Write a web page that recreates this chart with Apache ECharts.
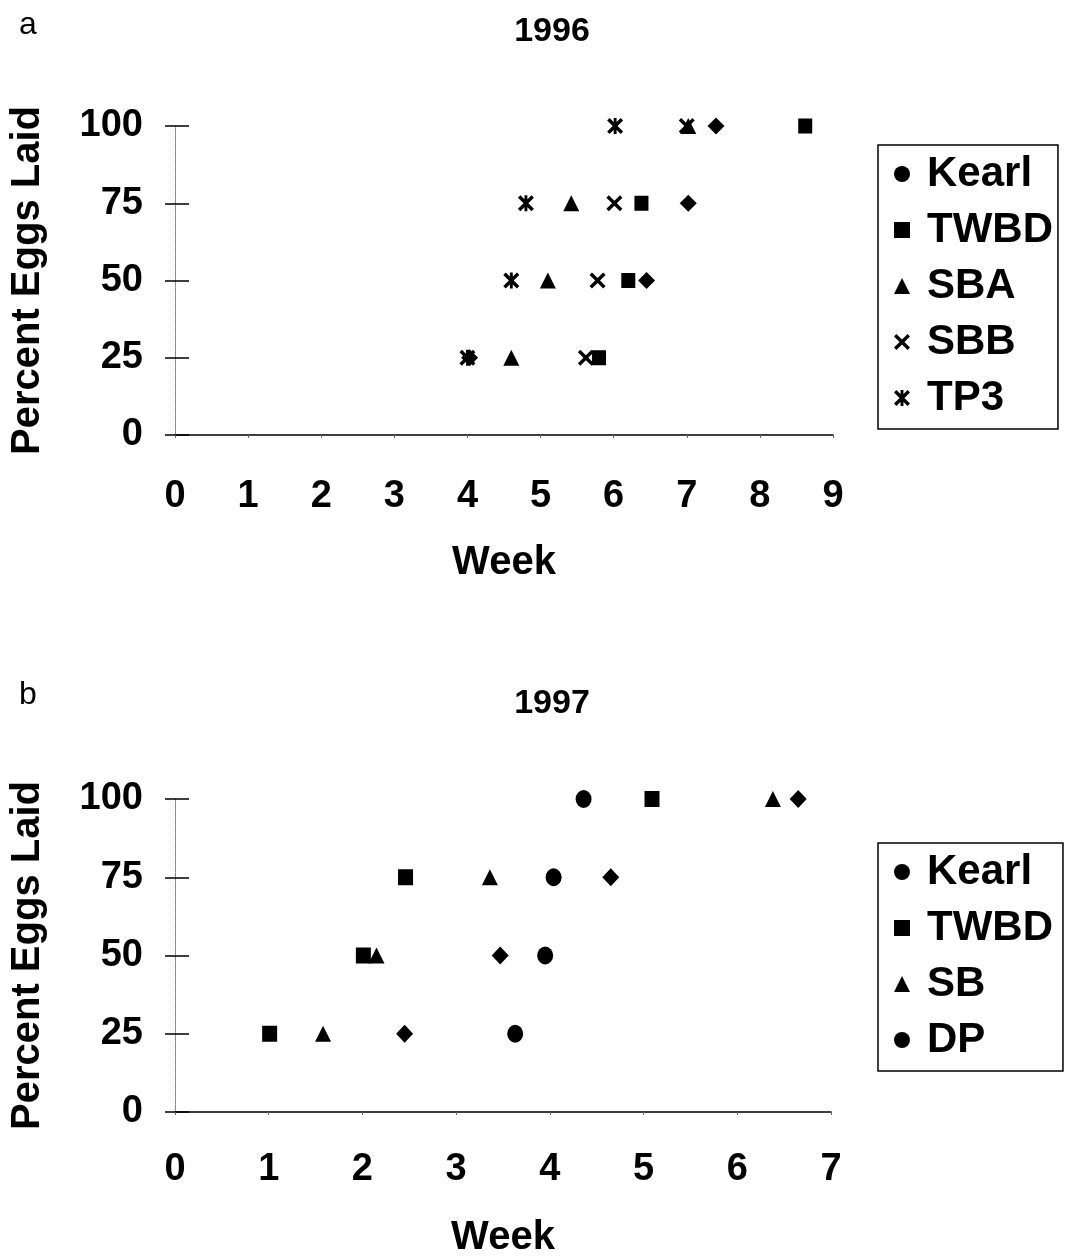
<!DOCTYPE html>
<html>
<head>
<meta charset="utf-8">
<title>Percent Eggs Laid by Week, 1996 and 1997</title>
<script src="https://cdn.jsdelivr.net/npm/echarts@6/dist/echarts.min.js"></script>
<style>
  html, body { margin: 0; padding: 0; background: #fff; }
  #chart { width: 1066px; height: 1259px; }
</style>
</head>
<body>
<div id="chart"></div>
<script>
// ---- data: [week, percent of eggs laid] ----
const yTicks = [0, 25, 50, 75, 100];

// 1996 sites
const names1996 = ['Kearl', 'TWBD', 'SBA', 'SBB', 'TP3'];
const kearl1996 = [[4.03, 25], [6.45, 50], [7.02, 75], [7.40, 100]];
const twbd1996  = [[5.80, 25], [6.20, 50], [6.38, 75], [8.62, 100]];
const sba1996   = [[4.60, 25], [5.10, 50], [5.42, 75], [7.02, 100]];
const sbb1996   = [[5.62, 25], [5.78, 50], [6.01, 75], [7.00, 100]];
const tp31996   = [[4.00, 25], [4.60, 50], [4.80, 75], [6.02, 100]];
const weekTicks1996 = [0, 1, 2, 3, 4, 5, 6, 7, 8, 9];

// 1997 sites
const names1997 = ['Kearl', 'TWBD', 'SB', 'DP'];
const kearl1997 = [[2.45, 25], [3.47, 50], [4.65, 75], [6.65, 100]];
const twbd1997  = [[1.01, 25], [2.01, 50], [2.46, 75], [5.09, 100]];
const sb1997    = [[1.58, 25], [2.15, 50], [3.36, 75], [6.38, 100]];
const dp1997    = [[3.63, 25], [3.95, 50], [4.04, 75], [4.36, 100]];
const weekTicks1997 = [0, 1, 2, 3, 4, 5, 6, 7];

// ---- marker shapes ----
const CROSS = 'path://M0,1.5L1.5,0L5,3.5L8.5,0L10,1.5L6.5,5L10,8.5L8.5,10L5,6.5L1.5,10L0,8.5L3.5,5Z';
const STAR = 'path://M0,1.5L1.5,0L5,3.5L8.5,0L10,1.5L6.5,5L10,8.5L8.5,10L5,6.5L1.5,10L0,8.5L3.5,5Z' +
             'M4.1,0L5.9,0L5.9,10L4.1,10Z';

const FONT = 'Liberation Sans, Arial, sans-serif';
const INK = '#000';

function valueAxisX(gridIndex, max, ticks) {
  return {
    type: 'value', gridIndex, min: 0, max, interval: 1,
    name: 'Week', nameLocation: 'middle',
    nameGap: gridIndex === 0 ? 108 : 106,
    nameTextStyle: { fontFamily: FONT, fontSize: 40, fontWeight: 'bold', color: INK },
    axisLine: { show: true, onZero: false, lineStyle: { color: INK, width: 1.5 } },
    axisTick: { show: true, length: 3, lineStyle: { color: '#666', width: 1 } },
    splitLine: { show: false },
    axisLabel: {
      margin: gridIndex === 0 ? 43 : 39,
      fontFamily: FONT, fontSize: 38, fontWeight: 'bold', color: INK,
      formatter: v => ticks.includes(v) ? String(v) : ''
    }
  };
}

function valueAxisY(gridIndex) {
  return {
    type: 'value', gridIndex, min: 0, max: 100, interval: 25, position: 'left',
    name: 'Percent Eggs Laid', nameLocation: 'middle', nameGap: 127,
    nameTextStyle: { fontFamily: FONT, fontSize: 40, fontWeight: 'bold', color: INK },
    axisLine: { show: true, lineStyle: { color: '#777', width: 1, type: 'dotted' } },
    axisTick: { show: true, length: 10, lineStyle: { color: INK, width: 1.5 } },
    splitLine: { show: false },
    axisLabel: {
      margin: 32, fontFamily: FONT, fontSize: 38, fontWeight: 'bold', color: INK,
      formatter: v => yTicks.includes(v) ? String(v) : ''
    }
  };
}

// companion axis that carries the inward half of each y tick
function innerTickAxis(gridIndex) {
  return {
    type: 'value', gridIndex, min: 0, max: 100, interval: 25, position: 'left',
    axisLine: { show: false },
    axisTick: { show: true, inside: true, length: 14, lineStyle: { color: INK, width: 1.5 } },
    axisLabel: { show: false },
    splitLine: { show: false }
  };
}

function scatter(name, data, symbol, size, xi, yi) {
  return {
    type: 'scatter', name, data, symbol, symbolSize: size,
    xAxisIndex: xi, yAxisIndex: yi,
    itemStyle: { color: INK, opacity: 1 },
    emphasis: { disabled: true }
  };
}

const legendCommon = {
  orient: 'vertical',
  backgroundColor: '#fff',
  borderColor: INK, borderWidth: 1.5, borderRadius: 0,
  itemWidth: 16, itemHeight: 16, itemGap: 14,
  selectedMode: false,
  textStyle: { fontFamily: FONT, fontSize: 42, fontWeight: 'bold', color: INK, lineHeight: 42, padding: [0, 0, 0, 12] },
  padding: [8, 5, 10, 16]
};

const chart = echarts.init(document.getElementById('chart'), null, { renderer: 'canvas' });

chart.setOption({
  animation: false,
  backgroundColor: '#fff',
  title: [
    { text: '1996', left: 547, top: 10, textAlign: 'center',
      textStyle: { fontFamily: FONT, fontSize: 34, fontWeight: 'bold', color: INK } },
    { text: '1997', left: 547, top: 682, textAlign: 'center',
      textStyle: { fontFamily: FONT, fontSize: 34, fontWeight: 'bold', color: INK } },
    { text: 'a', left: 14, top: 4,
      textStyle: { fontFamily: FONT, fontSize: 32, fontWeight: 'normal', color: INK } },
    { text: 'b', left: 14, top: 674,
      textStyle: { fontFamily: FONT, fontSize: 32, fontWeight: 'normal', color: INK } }
  ],
  grid: [
    { left: 172, right: 233, top: 126, bottom: 824 },
    { left: 170, right: 235, top: 799, bottom: 144 }
  ],
  xAxis: [
    valueAxisX(0, 9, weekTicks1996),
    valueAxisX(1, 7, weekTicks1997)
  ],
  yAxis: [
    valueAxisY(0), innerTickAxis(0),
    valueAxisY(1), innerTickAxis(1)
  ],
  legend: [
    Object.assign({}, legendCommon, {
      left: 878, top: 145,
      data: [
        { name: names1996[0], icon: 'circle' },
        { name: names1996[1], icon: 'rect' },
        { name: names1996[2], icon: 'triangle' },
        { name: names1996[3], icon: CROSS },
        { name: names1996[4], icon: STAR }
      ]
    }),
    Object.assign({}, legendCommon, {
      left: 878, top: 843,
      padding: [8, 10, 10, 16],
      data: [
        { name: names1997[0], icon: 'circle' },
        { name: names1997[1], icon: 'rect' },
        { name: names1997[2], icon: 'triangle' },
        { name: names1997[3], icon: 'circle' }
      ]
    })
  ],
  series: [
    scatter(names1996[0], kearl1996, 'diamond', [17, 17], 0, 0),
    scatter(names1996[1], twbd1996, 'rect', [14, 15], 0, 0),
    scatter(names1996[2], sba1996, 'triangle', [16, 16], 0, 0),
    scatter(names1996[3], sbb1996, CROSS, [16, 16], 0, 0),
    scatter(names1996[4], tp31996, STAR, [16, 16], 0, 0),

    scatter(names1997[0], kearl1997, 'diamond', [17, 18], 1, 2),
    scatter(names1997[1], twbd1997, 'rect', [15, 16], 1, 2),
    scatter(names1997[2], sb1997, 'triangle', [16, 16], 1, 2),
    scatter(names1997[3], dp1997, 'circle', [16, 18], 1, 2)
  ]
});
</script>
</body>
</html>
